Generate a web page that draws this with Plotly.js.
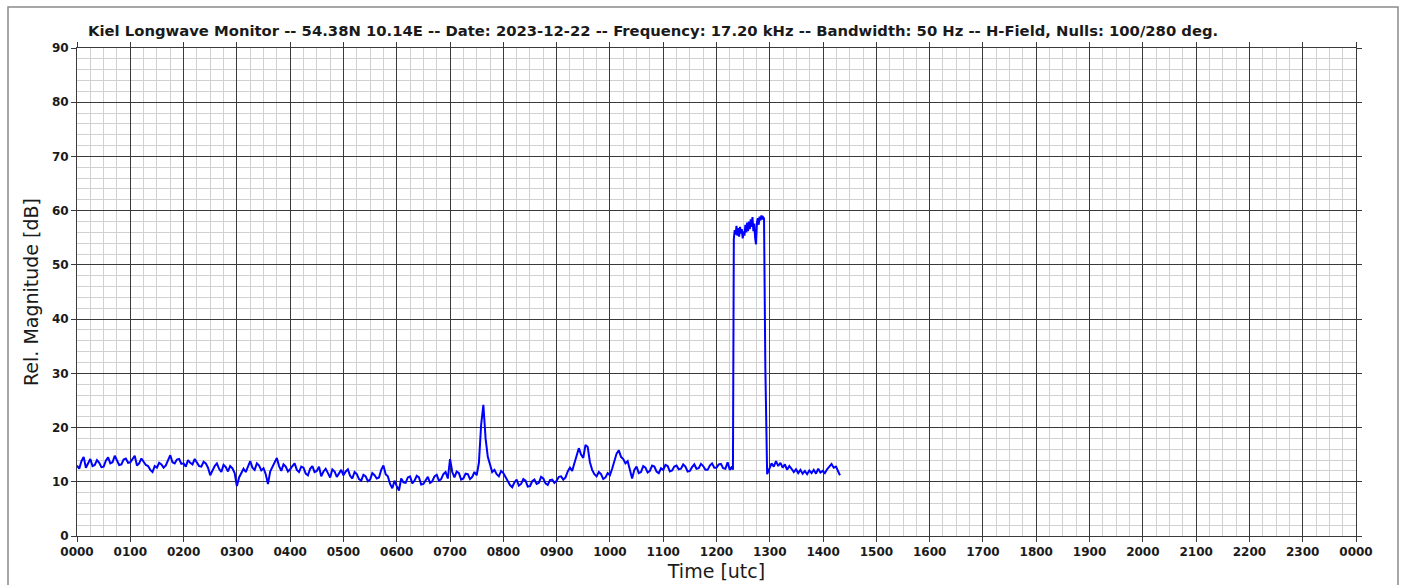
<!DOCTYPE html>
<html>
<head>
<meta charset="utf-8">
<script src="https://cdn.plot.ly/plotly-3.0.1.min.js"></script>
<style>html,body{margin:0;padding:0;background:#fff;}#chart{width:1405px;height:585px;}</style>
</head>
<body>
<div id="chart"></div>
<script>
// Time of day in minutes (UTC)
const timeMinutes = [
  0,2.5,5,7.5,10,12.5,15,17.5,20,22.5,25,27.5,30,32.5,35,37.5,40,42.5,45,47.5,50,52.5,55,57.5,
  60,62.5,65,67.5,70,72.5,75,77.5,80,82.5,85,87.5,90,92.5,95,97.5,100,102.5,105,107.5,110,112.5,115,117.5,
  120,122.5,125,127.5,130,132.5,135,137.5,140,142.5,145,147.5,150,152.5,155,157.5,160,162.5,165,167.5,170,172.5,175,177.5,
  180,182.5,185,187.5,190,192.5,195,197.5,200,202.5,205,207.5,210,212.5,215,217.5,220,222.5,225,227.5,230,232.5,235,237.5,
  240,242.5,245,247.5,250,252.5,255,257.5,260,262.5,265,267.5,270,272.5,275,277.5,280,282.5,285,287.5,290,292.5,295,297.5,
  300,302.5,305,307.5,310,312.5,315,317.5,320,322.5,325,327.5,330,332.5,335,337.5,340,342.5,345,347.5,350,352.5,355,357.5,
  360,362.5,365,367.5,370,372.5,375,377.5,380,382.5,385,387.5,390,392.5,395,397.5,400,402.5,405,407.5,410,412.5,415,417.5,
  420,422.5,425,427.5,430,432.5,435,437.5,440,442.5,445,447.5,450,452.5,455,457.5,460,462.5,465,467.5,470,472.5,475,477.5,
  480,482.5,485,487.5,490,492.5,495,497.5,500,502.5,505,507.5,510,512.5,515,517.5,520,522.5,525,527.5,530,532.5,535,537.5,
  540,542.5,545,547.5,550,552.5,555,557.5,560,562.5,565,567.5,570,572.5,575,577.5,580,582.5,585,587.5,590,592.5,595,597.5,
  600,602.5,605,607.5,610,612.5,615,617.5,620,622.5,625,627.5,630,632.5,635,637.5,640,642.5,645,647.5,650,652.5,655,657.5,
  660,662.5,665,667.5,670,672.5,675,677.5,680,682.5,685,687.5,690,692.5,695,697.5,700,702.5,705,707.5,710,712.5,715,717.5,
  720,722.5,725,727.5,730,732.5,735,737.5,738.5,
  739.5,740.5,741.5,742.5,743.5,744.5,745.5,746.5,747.5,748.5,749.5,750.5,751.5,752.5,753.5,754.5,755.5,756.5,
  757.5,758.5,759.5,760.5,761.5,762.5,763.5,764.5,765.5,766.5,767.5,768.5,769.5,770.5,771.5,772.5,773.5,775,777,
  779.5,782,784.5,787,789.5,792,794.5,797,799.5,802,804.5,807,809.5,812,814.5,817,819.5,822,824.5,827,829.5,
  832,834.5,837,839.5,842,844.5,847,849.5,852,854.5,857,859
];
// Relative magnitude [dB]
const magnitudeDb = [
  13.0,12.4,13.8,14.6,12.6,13.4,14.2,12.9,13.1,14.0,13.5,12.7,12.8,13.9,14.5,13.4,13.6,14.8,14.0,13.1,13.2,14.1,14.3,13.5,
  13.6,14.2,14.8,13.0,13.4,14.3,13.8,13.1,12.9,12.2,11.8,12.9,12.6,13.5,13.2,12.6,13.0,13.8,14.9,13.6,13.4,14.1,14.2,13.3,
  13.4,12.8,14.0,13.5,13.2,14.2,13.6,12.9,12.8,13.7,13.4,12.6,11.2,12.2,12.9,13.4,12.4,11.8,13.1,12.7,11.9,12.9,12.5,11.6,
  9.2,10.8,11.6,12.4,11.8,13.0,13.8,12.6,12.2,13.4,13.0,12.1,12.5,11.4,9.6,11.9,12.8,13.6,14.4,12.9,12.0,13.2,12.8,11.9,
  12.3,12.9,13.4,12.2,11.8,12.8,12.6,11.5,11.2,12.4,12.9,11.8,12.0,12.8,11.0,11.9,12.4,11.6,10.8,12.3,11.9,10.9,11.5,12.2,
  11.2,11.9,12.3,11.1,10.6,11.8,11.4,10.5,10.2,11.3,11.0,10.1,10.4,11.6,11.2,10.6,10.8,12.2,13.0,11.4,11.0,9.6,8.8,10.2,
  9.2,8.4,10.6,9.9,9.8,10.8,11.0,9.7,10.2,11.1,10.8,9.5,9.6,10.4,10.9,9.8,10.1,11.0,11.3,10.2,10.5,11.4,11.8,10.6,
  14.2,11.8,10.8,11.9,11.6,10.4,10.6,11.5,11.4,10.5,10.9,11.8,11.2,13.5,20.5,24.2,18.0,14.6,13.0,11.8,12.2,11.4,11.0,12.0,
  11.6,10.8,10.2,9.4,9.0,9.9,10.4,9.3,9.6,10.5,10.2,9.1,9.2,10.1,10.4,9.6,9.8,10.9,10.6,9.7,9.4,10.3,10.4,9.8,
  10.2,10.9,11.0,10.4,10.8,11.9,12.6,12.0,13.4,14.8,16.2,15.0,14.4,16.8,16.4,13.6,12.2,11.4,11.0,11.8,11.4,10.5,10.8,11.6,
  11.2,12.4,13.6,15.2,15.8,14.6,14.2,13.4,13.8,12.0,10.6,12.2,12.8,11.6,11.8,12.9,12.6,11.7,12.0,13.0,12.8,11.9,11.6,12.5,
  12.2,13.1,12.9,11.9,12.1,12.8,13.0,12.3,12.4,13.2,12.8,11.9,12.0,12.7,13.2,12.4,12.5,13.3,12.9,12.2,12.2,13.0,13.4,12.6,
  12.6,13.2,13.3,12.5,12.4,13.6,12.2,12.8,12.2,
  54.8,56.4,55.6,57.2,55.4,56.8,55.2,57.0,55.8,56.6,54.9,56.2,55.4,57.4,56.0,57.8,56.2,58.0,
  56.6,58.4,57.0,58.8,56.2,57.6,55.0,53.8,57.8,58.6,57.4,58.9,58.2,59.1,58.4,58.8,58.6,31.0,11.4,
  12.6,13.4,12.8,13.8,12.9,13.5,12.6,13.2,12.2,12.9,12.4,11.8,12.3,11.6,12.2,11.5,12.0,11.4,12.1,11.6,12.2,
  11.5,12.4,11.7,12.0,11.6,12.3,12.8,13.3,12.6,12.8,11.9,11.2
];
// Axis ticks
const hourTickValues = [0,60,120,180,240,300,360,420,480,540,600,660,720,780,840,900,960,1020,1080,1140,1200,1260,1320,1380,1440];
const hourTickLabels = ["0000","0100","0200","0300","0400","0500","0600","0700","0800","0900","1000","1100","1200","1300","1400","1500","1600","1700","1800","1900","2000","2100","2200","2300","0000"];
const titleText = "Kiel Longwave Monitor -- 54.38N 10.14E -- Date: 2023-12-22 -- Frequency: 17.20 kHz -- Bandwidth: 50 Hz -- H-Field, Nulls: 100/280 deg.";

const trace = {
  x: timeMinutes, y: magnitudeDb, type: 'scatter', mode: 'lines',
  line: {color: '#0000ff', width: 2}, hoverinfo: 'skip', showlegend: false
};

const axisCommon = {
  showgrid: true, gridcolor: '#3a3a3a', gridwidth: 1,
  ticks: 'outside', ticklen: 5, tickcolor: '#3a3a3a', tickwidth: 1,
  showline: true, linecolor: '#3a3a3a', linewidth: 1, mirror: 'ticks',
  zeroline: false, fixedrange: true,
  tickfont: {family: 'DejaVu Sans', size: 12, color: '#1a1a1a', weight: 'bold'}
};

const layout = {
  width: 1405, height: 585,
  margin: {l: 77, r: 49, t: 48, b: 49},
  paper_bgcolor: '#ffffff', plot_bgcolor: '#ffffff',
  title: {text: titleText, x: 88/1405, xanchor: 'left', xref: 'container',
          y: 1 - 31/585, yanchor: 'middle', yref: 'container',
          font: {family: 'DejaVu Sans', size: 14.8, color: '#1a1a1a', weight: 'bold'}},
  xaxis: Object.assign({}, axisCommon, {
    range: [0, 1440], tickmode: 'array', tickvals: hourTickValues, ticktext: hourTickLabels,
    minor: {dtick: 15, tick0: 0, showgrid: true, gridcolor: '#d0d0d0', gridwidth: 1, ticks: ''},
    title: {text: 'Time [utc]', standoff: 6, font: {family: 'DejaVu Sans', size: 19, color: '#1a1a1a'}}
  }),
  yaxis: Object.assign({}, axisCommon, {
    range: [0, 90], tickmode: 'linear', tick0: 0, dtick: 10,
    minor: {dtick: 2, tick0: 0, showgrid: true, gridcolor: '#d0d0d0', gridwidth: 1, ticks: ''},
    title: {text: 'Rel. Magnitude [dB]', standoff: 8, font: {family: 'DejaVu Sans', size: 19, color: '#1a1a1a'}}
  }),
  shapes: [{
    type: 'rect', xref: 'paper', yref: 'paper',
    x0: (8-77)/1279, x1: (1398-77)/1279, y0: (536-600)/488, y1: (536-7)/488,
    line: {color: '#8a8a8a', width: 1.5}, fillcolor: 'rgba(0,0,0,0)', layer: 'below'
  }]
};

Plotly.newPlot('chart', [trace], layout, {displayModeBar: false, staticPlot: true});
</script>
</body>
</html>
